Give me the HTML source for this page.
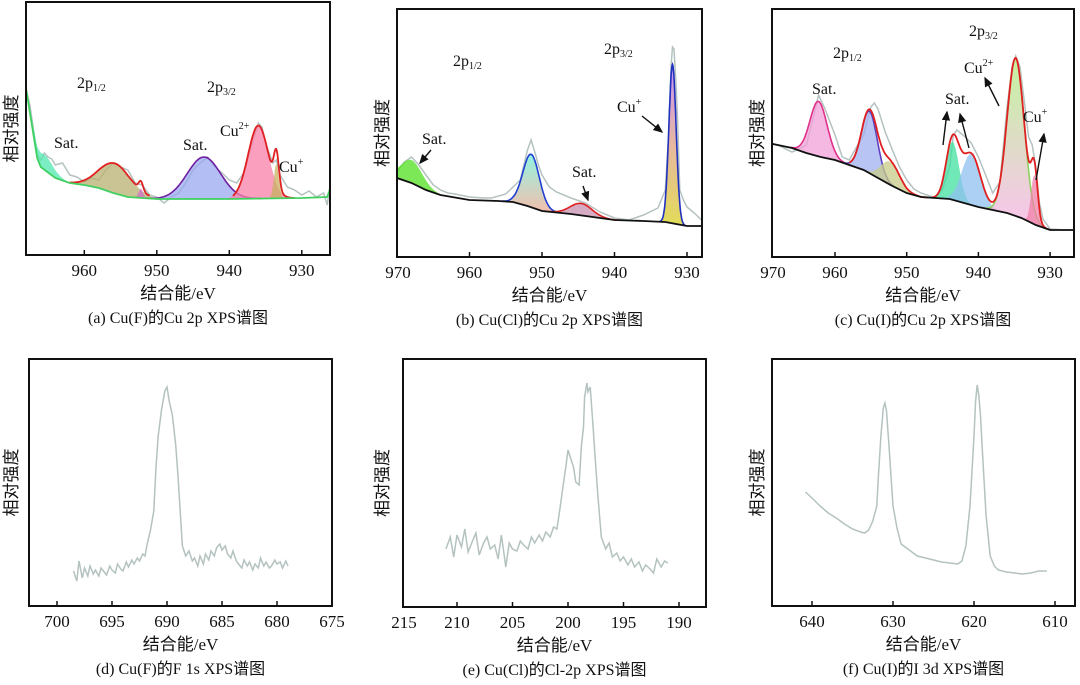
<!DOCTYPE html>
<html><head><meta charset="utf-8">
<style>
html,body{margin:0;padding:0;background:#fff;}
svg{display:block;}
text{font-family:"Liberation Serif","Noto Serif CJK SC","Noto Sans CJK SC",serif;fill:#111;}
.cjk{font-family:"Liberation Serif","Noto Sans CJK SC",sans-serif;}
</style></head>
<body>
<svg id="fig" width="1080" height="685" viewBox="0 0 1080 685" xmlns="http://www.w3.org/2000/svg">
<defs>
<linearGradient id="gb2" x1="0" y1="0" x2="0" y2="1"><stop offset="0" stop-color="#70f0d8"/><stop offset="1" stop-color="#f0a890"/></linearGradient>
<linearGradient id="gb4" x1="0" y1="0" x2="0" y2="1"><stop offset="0" stop-color="#b070f0"/><stop offset="0.5" stop-color="#e0a080"/><stop offset="1" stop-color="#d8d020"/></linearGradient>
<linearGradient id="gc6" x1="0" y1="0" x2="0" y2="1"><stop offset="0" stop-color="#b0f080"/><stop offset="1" stop-color="#f8b0e8"/></linearGradient>
<marker id="ah" markerWidth="8" markerHeight="8" refX="6" refY="3" orient="auto"><path d="M0,0 L7,3 L0,6 z" fill="#111"/></marker>
</defs>
</svg>
<script>
// ---------- DATA (energies in eV, intensities in arbitrary units) ----------
// Panel (a) Cu(F) Cu 2p
const aRawE=[968,967.5,967,966.5,966,965.5,965,964.5,964,963,962,961,960,959,958,957,956,955,954,953,952,951,950,949,948,947,946,945,944,943,942,941,940,939,938,937,936,935.5,935,934,933.5,933,932,931,930,929,928,927,926.5,926];
const aRawI=[165,150,125,100,95,102,98,96,90,92,80,78,73,77,75,85,92,88,85,72,70,60,58,52,58,62,72,85,92,98,88,82,75,72,82,108,132,128,112,92,95,80,68,65,60,64,58,62,50,75];
const aBgE=[968,967,966.5,966,964,962,960,958,956,954,950,940,930,926.5,926];
const aBgI=[165,120,97,88,77,72,70,67,62,58,56,56,57,58,68];
const aPeakCenter=[965.5,955.8,952.2,943.5,936,933.5];
const aPeakHeight=[15,30,9,42,73,34];
const aPeakWidth=[1.3,2.2,0.3,2.3,1.4,0.35];
// Panel (b) Cu(Cl) Cu 2p
const bRawE=[970,969,968,967,966,965,964,963,962,960,958,957,955,954,953,952.5,952,951.5,951,950.5,950,949,948,946,944,942,940,938,936,934,933,932.5,932.2,932,931.8,931.5,931.3,931,930.5,930,929,928];
const bRawI=[85,95,100,92,82,72,67,64,63,60,59,59,63,70,77,92,107,117,105,92,82,70,65,59,54,45,39,37,42,49,67,127,190,210,208,170,137,67,57,50,44,37];
const bBgE=[970,968,966,964,960,956,954,952,950,946,940,936,933,931.5,930,928];
const bBgI=[79,74,67,62,57,56,55,51,46,43,37,36,35,33,31,31];
const bPeakCenter=[968,951.5,944.6,932];
const bPeakHeight=[23,53,12,159];
const bPeakWidth=[1.5,1.15,1.5,0.5];
// Panel (c) Cu(I) Cu 2p
const cRawE=[970,968,966,965,964,963,962.3,961.5,960,959,958,957,956,955,954.5,954,953,952,951,950,949,948,946,945,944,943.5,943,942,941,940,939,938,937,936,935.3,934.8,934.2,933.5,933,932.5,932,931.5,931,930,928,926];
const cRawI=[115,112,105,108,112,140,162,150,122,100,97,110,122,150,154,148,125,107,90,77,68,64,59,68,90,122,127,121,114,100,82,64,75,150,190,201,190,150,120,112,90,55,38,28,27,27];
const cBgE=[970,966,964,962,960,958,956,954,952,950,948,946,944,942,940,938,936,934,932,930,926];
const cBgI=[115,109,104,100,97,92,87,79,71,64,60,59,58,54,50,47,44,39,32,27,27];
const cPeakCenter=[962.3,955.2,952.3,943.6,941,934.8,932.2];
const cPeakHeight=[55,62,23,58,51,158,49];
const cPeakWidth=[1.2,1.1,1.3,0.9,1.3,1.2,0.45];
// Panel (d) Cu(F) F 1s
const dRawE=[698.5,698.2,698,697.7,697.5,697.2,697,696.7,696.5,696.2,696,695.7,695.5,695.2,695,694.7,694.5,694.2,694,693.7,693.5,693.2,693,692.7,692.5,692.2,692,691.8,691.5,691.2,691,690.8,690.5,690.2,690,689.8,689.5,689.2,689,688.8,688.6,688.3,688,687.7,687.5,687.2,687,686.7,686.5,686.2,686,685.7,685.5,685.2,685,684.7,684.5,684.2,684,683.7,683.5,683.2,683,682.7,682.5,682.2,682,681.7,681.5,681.2,681,680.7,680.5,680.2,680,679.7,679.5,679.2,679];
const dRawI=[35,25,45,28,38,30,40,32,36,30,38,34,31,40,36,33,42,37,35,44,39,46,42,48,45,52,50,62,76,95,139,170,196,215,219,205,190,160,130,95,60,50,55,45,48,40,50,42,52,46,55,50,58,62,56,60,52,48,55,45,42,38,46,40,44,36,42,38,48,40,44,38,40,46,42,44,38,45,40];
// Panel (e) Cu(Cl) Cl 2p
const eRawE=[211,210.6,210.3,210,209.6,209.3,209,208.6,208.3,208,207.6,207.3,207,206.6,206.3,206,205.6,205.3,205,204.6,204.3,204,203.6,203.3,203,202.6,202.3,202,201.6,201.3,201,200.7,200.5,200.2,200,199.8,199.5,199.3,199,198.8,198.6,198.5,198.3,198.2,198,197.8,197.5,197.3,197,196.6,196.3,196,195.6,195.3,195,194.6,194.3,194,193.6,193.3,193,192.6,192.3,192,191.6,191.3,191];
const eRawI=[58,70,50,72,60,78,55,66,74,52,64,70,58,62,48,72,40,64,58,56,66,62,58,70,64,72,66,75,70,80,78,100,117,140,157,150,140,125,122,160,180,210,224,215,220,190,140,110,70,58,64,50,54,46,50,42,48,40,45,36,42,38,34,48,40,46,44];
// Panel (f) Cu(I) I 3d
const fRawE=[640.8,640,639,638,637,636,635,634,633.5,633,632.5,632,631.8,631.5,631.2,631,630.8,630.5,630,629.5,629,628,627,626,625,624,623,622,621.5,621,620.5,620,619.8,619.6,619.4,619.2,619,618.5,618,617.5,617,616,615,614,613,612,611];
const fRawI=[114,108,100,93,88,82,77,74,73,76,85,100,130,170,198,203,195,160,100,78,62,56,50,48,46,44,43,42,45,60,100,170,205,221,210,190,160,90,50,40,36,34,33,32,33,35,35];

// ---------- RENDERING ----------
const NS='http://www.w3.org/2000/svg';
const svg=document.getElementById('fig');
const defs=svg.querySelector('defs');
function mk(tag,attrs,parent){const e=document.createElementNS(NS,tag);for(const k in attrs)e.setAttribute(k,attrs[k]);(parent||svg).appendChild(e);return e;}
function interp(E,I,e){
  if(e>=E[0])return I[0]; for(let i=1;i<E.length;i++){if(e>=E[i]){const t=(E[i-1]-e)/(E[i-1]-E[i]);return I[i-1]+t*(I[i]-I[i-1]);}} return I[I.length-1];}
function gauss(c,h,w,e){return h*Math.exp(-0.5*((e-c)/w)*((e-c)/w));}

function makePanel(p){
  const g=mk('g',{});
  
  
  const cp=mk('clipPath',{id:'clip-'+p.name},defs);
  mk('rect',{x:p.left,y:p.top,width:p.right-p.left,height:p.bottom-p.top},cp);
  const pg=mk('g',{'clip-path':'url(#clip-'+p.name+')'},g);
  
  
  p.X=e=>p.xref+(p.eref-e)*p.k;
  p.Y=v=>p.bottom-v;
  p.g=g;p.pg=pg;
  return p;
}
function drawFrame(p){
  const g=p.g;
  const fr=mk('rect',{x:p.left,y:p.top,width:p.right-p.left,height:p.bottom-p.top,fill:'none',stroke:'#111','stroke-width':2},g);
  
  
  p.ticks.forEach(t=>{
    const x=p.X(t);
    if(x>p.left+2&&x<p.right-2){
      const tk=mk('line',{x1:x,x2:x,y1:p.bottom,y2:p.bottom-5,stroke:'#111','stroke-width':1.5},g);
      
      
    }
    const lx=Math.max(x,p.left+1);
    const tl=mk('text',{x:lx,y:p.bottom+21,'text-anchor':'middle','font-size':17},g);
    tl.textContent=t;
    
    
  });
  const cx=(p.left+p.right)/2;
  const xl=mk('text',{x:cx,y:p.bottom+44,'text-anchor':'middle','font-size':17,class:'cjk'},g);
  xl.textContent='结合能/eV';
  
  
  const cap=mk('text',{x:cx,y:p.bottom+68,'text-anchor':'middle','font-size':16,class:'cjk'},g);
  cap.textContent=p.caption;
  
  
  const yc=(p.top+p.bottom)/2;
  const yl=mk('text',{x:p.ylx,y:yc,'text-anchor':'middle','font-size':17,class:'cjk',transform:`rotate(-90 ${p.ylx} ${yc})`},g);
  yl.textContent='相对强度';
  
  
}
function drawRaw(p,E,I){
  const d=E.map((e,i)=>(i?'L':'M')+p.X(e).toFixed(1)+','+p.Y(I[i]).toFixed(1)).join(' ');
  const l=mk('path',{d:d,fill:'none',stroke:'#b4c2c0','stroke-width':1.5},p.pg);
  
  
}
function drawPeaks(p,BE,BI,C,H,W,fills,strokes){
  C.forEach((c,i)=>{
    const lo=c+3.5*W[i], hi=c-3.5*W[i], n=60;
    let top=[],bot=[];
    for(let j=0;j<=n;j++){const e=lo-(lo-hi)*j/n;const b=interp(BE,BI,e);top.push([p.X(e),p.Y(b+gauss(c,H[i],W[i],e))]);bot.push([p.X(e),p.Y(b)]);}
    const d='M'+top.map(q=>q[0].toFixed(1)+','+q[1].toFixed(1)).join(' L')+' L'+bot.reverse().map(q=>q[0].toFixed(1)+','+q[1].toFixed(1)).join(' L')+'Z';
    const a=mk('path',{d:d,fill:fills[i],'fill-opacity':0.75,stroke:'none'},p.pg);
    
    
    if(strokes&&strokes[i]){
      const ld='M'+top.map(q=>q[0].toFixed(1)+','+q[1].toFixed(1)).join(' L');
      const l=mk('path',{d:ld,fill:'none',stroke:strokes[i],'stroke-width':1.6},p.pg);
      
      
    }
  });
}
function drawEnvelope(p,BE,BI,C,H,W,from,to,idx,color){
  let pts=[];const n=200;
  for(let j=0;j<=n;j++){const e=from-(from-to)*j/n;let v=interp(BE,BI,e);idx.forEach(i=>v+=gauss(C[i],H[i],W[i],e));pts.push(p.X(e).toFixed(1)+','+p.Y(v).toFixed(1));}
  const l=mk('path',{d:'M'+pts.join(' L'),fill:'none',stroke:color,'stroke-width':1.8},p.pg);
  
  
}
function drawBg(p,BE,BI,color){
  const d=BE.map((e,i)=>(i?'L':'M')+p.X(e).toFixed(1)+','+p.Y(BI[i]).toFixed(1)).join(' ');
  const l=mk('path',{d:d,fill:'none',stroke:color,'stroke-width':1.8},p.pg);
  
  
}
function label(p,x,y,main,sub,sup,name){
  const t=mk('text',{x:x,y:y,'font-size':16},p.g);
  
  
  const s1=mk('tspan',{},t);s1.textContent=main;
  if(sub){const s=mk('tspan',{dy:3,'font-size':10},t);s.textContent=sub;}
  if(sup){const s=mk('tspan',{dy:-7,'font-size':10},t);s.textContent=sup;}
}
function arrow(p,x1,y1,x2,y2){
  const a=mk('line',{x1:x1,y1:y1,x2:x2,y2:y2,stroke:'#111','stroke-width':1.4,'marker-end':'url(#ah)'},p.g);
  
  
}

// (a)
const A=makePanel({name:'panel-a',left:26,right:330,top:2,bottom:255,xref:84.3,eref:960,k:7.25,ticks:[960,950,940,930],caption:'(a) Cu(F)的Cu 2p XPS谱图',ylx:17});
drawRaw(A,aRawE,aRawI);
drawPeaks(A,aBgE,aBgI,aPeakCenter,aPeakHeight,aPeakWidth,['#50e8b0','#b8b070','#d070c8','#98a8f0','#f880a8','#c8b060'],[null,null,null,'#7020a0',null,null]);
drawEnvelope(A,aBgE,aBgI,aPeakCenter,aPeakHeight,aPeakWidth,962,951,[1,2],'#e02020');
drawEnvelope(A,aBgE,aBgI,aPeakCenter,aPeakHeight,aPeakWidth,939.5,931,[4,5],'#e02020');
drawBg(A,aBgE,aBgI,'#40d060');
drawFrame(A);
label(A,77,88,'2p','1/2',null,'label-2p12');label(A,207,92,'2p','3/2',null,'label-2p32');
label(A,54,148,'Sat.',null,null,'label-sat');label(A,183,150,'Sat.',null,null,'label-sat');
label(A,220,136,'Cu',null,'2+','label-cu2plus');label(A,279,172,'Cu',null,'+','label-cuplus');

// (b)
const B=makePanel({name:'panel-b',left:397,right:702,top:9,bottom:257,xref:397,eref:970,k:7.25,ticks:[970,960,950,940,930],caption:'(b) Cu(Cl)的Cu 2p XPS谱图',ylx:388});
drawRaw(B,bRawE,bRawI);
drawPeaks(B,bBgE,bBgI,bPeakCenter,bPeakHeight,bPeakWidth,['#50e020','url(#gb2)','#c890b0','url(#gb4)'],[null,'#2040d0','#e02020','#2030c0']);
drawBg(B,bBgE,bBgI,'#111');
drawFrame(B);
label(B,453,66,'2p','1/2',null,'label-2p12');label(B,604,54,'2p','3/2',null,'label-2p32');
label(B,617,112,'Cu',null,'+','label-cuplus');arrow(B,642,116,662,132);
label(B,422,144,'Sat.',null,null,'label-sat');arrow(B,431,150,420,163);
label(B,572,177,'Sat.',null,null,'label-sat');arrow(B,583,186,588,200);

// (c)
const C=makePanel({name:'panel-c',left:772,right:1074,top:9,bottom:257,xref:835,eref:960,k:7.17,ticks:[970,960,950,940,930],caption:'(c) Cu(I)的Cu 2p XPS谱图',ylx:763});
drawRaw(C,cRawE,cRawI);
drawPeaks(C,cBgE,cBgI,cPeakCenter,cPeakHeight,cPeakWidth,['#f0a0d8','#a0b0f0','#c8cc88','#40e0a0','#90c0f0','url(#gc6)','#f080a8'],['#e0308a','#6040c0',null,null,null,'#90d060',null]);
drawEnvelope(C,cBgE,cBgI,cPeakCenter,cPeakHeight,cPeakWidth,958,947,[1,2],'#e02020');
drawEnvelope(C,cBgE,cBgI,cPeakCenter,cPeakHeight,cPeakWidth,946.5,930,[3,4,5,6],'#e02020');
drawBg(C,cBgE,cBgI,'#111');
drawFrame(C);
label(C,833,58,'2p','1/2',null,'label-2p12');label(C,969,36,'2p','3/2',null,'label-2p32');
label(C,812,94,'Sat.',null,null,'label-sat');label(C,945,104,'Sat.',null,null,'label-sat');
label(C,964,73,'Cu',null,'2+','label-cu2plus');label(C,1023,122,'Cu',null,'+','label-cuplus');
arrow(C,943,145,947,112);arrow(C,969,148,960,114);arrow(C,999,106,985,78);arrow(C,1036,180,1044,134);

// (d)
const D=makePanel({name:'panel-d',left:29,right:332,top:359,bottom:606,xref:57,eref:700,k:11.0,ticks:[700,695,690,685,680,675],caption:'(d) Cu(F)的F 1s XPS谱图',ylx:17});
drawRaw(D,dRawE,dRawI);drawFrame(D);
// (e)
const Ee=makePanel({name:'panel-e',left:403,right:706,top:359,bottom:607,xref:457,eref:210,k:11.1,ticks:[215,210,205,200,195,190],caption:'(e) Cu(Cl)的Cl-2p XPS谱图',ylx:388});
drawRaw(Ee,eRawE,eRawI);drawFrame(Ee);
// (f)
const F=makePanel({name:'panel-f',left:772,right:1075,top:359,bottom:606,xref:812,eref:640,k:8.1,ticks:[640,630,620,610],caption:'(f) Cu(I)的I 3d XPS谱图',ylx:763});
drawRaw(F,fRawE,fRawI);drawFrame(F);
</script>
</body></html>
